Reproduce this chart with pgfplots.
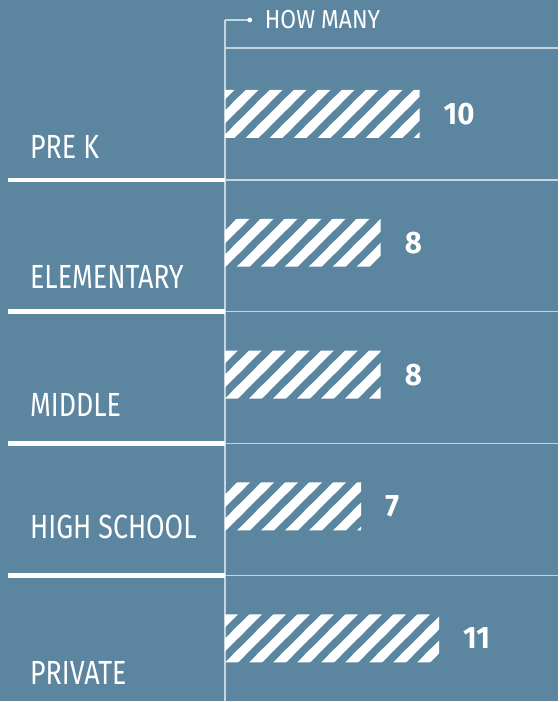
\documentclass[border=0pt]{standalone}
\usepackage{fontspec}
\setmainfont[FakeStretch=0.8]{Fira Sans}
\newfontfamily\headfont[FakeStretch=0.88]{Fira Sans}
\newfontfamily\valfont[FakeStretch=0.95]{Fira Sans}
\usepackage{pgfplots}
\pgfplotsset{compat=1.18}
\usetikzlibrary{patterns}
\pgfdeclarepatternformonly{stripes}{\pgfqpoint{0pt}{0pt}}{\pgfqpoint{24pt}{24pt}}{\pgfqpoint{24pt}{24pt}}{%
  \pgfsetlinewidth{9.2pt}%
  \pgfpathmoveto{\pgfqpoint{-12pt}{-12pt}}\pgfpathlineto{\pgfqpoint{36pt}{36pt}}%
  \pgfpathmoveto{\pgfqpoint{-36pt}{-12pt}}\pgfpathlineto{\pgfqpoint{12pt}{36pt}}%
  \pgfpathmoveto{\pgfqpoint{12pt}{-12pt}}\pgfpathlineto{\pgfqpoint{60pt}{36pt}}%
  \pgfusepath{stroke}}
\definecolor{bg}{HTML}{5C859F}
\definecolor{ln}{HTML}{C5D5E0}
\begin{document}
\begin{tikzpicture}[x=1pt,y=1pt]
\fill[bg] (0,0) rectangle (559,702);
\draw[ln, line width=1.5] (225,0) -- (225,682);
\draw[ln, line width=1.5] (225,682) -- (250,682);
\fill[white] (250,682) circle (2.4);
\foreach \y in {48,180,312,444,576} \draw[ln, line width=1.5] (225,702-\y) -- (559,702-\y);
\foreach \y in {180,312,444,576} \draw[white, line width=4.5] (8,702-\y) -- (225,702-\y);
\node[anchor=west, text=white, font=\headfont\fontsize{26}{30}\selectfont, inner sep=0pt] at (265,682) {HOW MANY};
\begin{axis}[at={(0,0)}, anchor=south west, scale only axis, width=559pt, height=702pt,
 xmin=-11.538, xmax=17.128, ymin=0, ymax=702, y dir=reverse,
 axis line style={draw=none}, tick style={draw=none}, xtick=\empty,
 ytick={147,277,405,528,674},
 yticklabels={PRE K, ELEMENTARY, MIDDLE, HIGH SCHOOL, PRIVATE},
 yticklabel style={anchor=west, inner xsep=0pt, xshift=30pt, text=white, font=\fontsize{33.5}{38}\selectfont},
 /pgf/number format/assume math mode=true,
 clip=false]
\addplot[xbar, bar width=48, draw=none, pattern=stripes, pattern color=white,
 nodes near coords,
 nodes near coords style={anchor=west, inner sep=0pt, xshift=24pt, text=white, font=\valfont\bfseries\fontsize{31}{36}\selectfont}]
 coordinates {(10,114) (8,243) (8,375) (7,507) (11,639)};
\end{axis}
\end{tikzpicture}
\end{document}
